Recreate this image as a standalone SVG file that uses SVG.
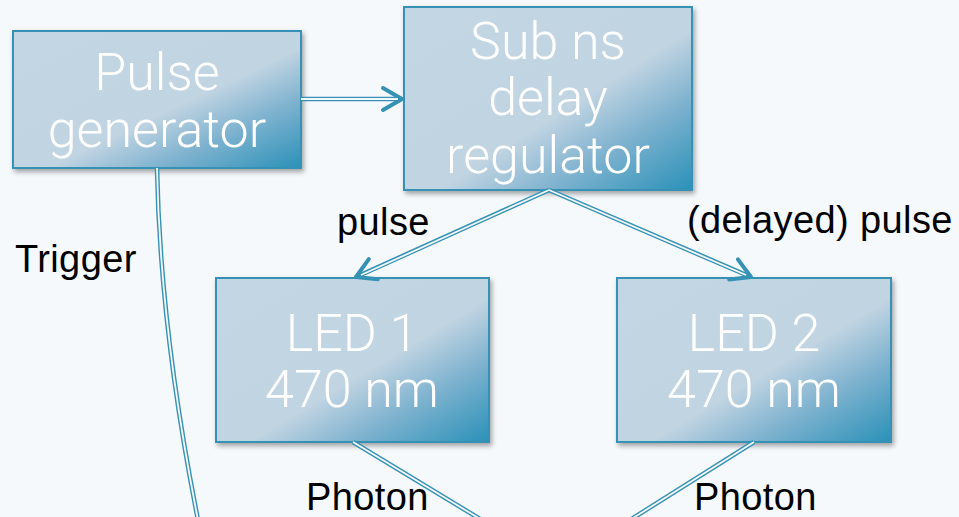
<svg xmlns="http://www.w3.org/2000/svg" width="959" height="517" viewBox="0 0 959 517">
  <defs>
    <linearGradient id="boxGrad" x1="0" y1="0" x2="1" y2="1">
      <stop offset="0" stop-color="#c3d6e3"/>
      <stop offset="0.56" stop-color="#c1d4e2"/>
      <stop offset="0.75" stop-color="#7eb2cf"/>
      <stop offset="1" stop-color="#2a91b8"/>
    </linearGradient>
    <filter id="shadow" x="-10%" y="-10%" width="125%" height="130%">
      <feDropShadow dx="2" dy="3" stdDeviation="2.5" flood-color="#000" flood-opacity="0.35"/>
    </filter>
    <marker id="chev" markerUnits="userSpaceOnUse" markerWidth="40" markerHeight="40" viewBox="-30 -20 40 40" refX="0" refY="0" orient="auto" overflow="visible">
      <path d="M-19,-11 L0,0 L-19,11" fill="none" stroke="#3592b4" stroke-width="4" stroke-linecap="round" stroke-linejoin="round"/>
    </marker>
  </defs>
  <style>
    .box { fill: url(#boxGrad); stroke: #3592b4; stroke-width: 2; filter: url(#shadow); }
    .btxt { font-family: Roboto, "Liberation Sans", sans-serif; font-weight: 300; font-size: 52px; fill: #ffffff; text-anchor: middle; }
    .lbl { font-family: "Liberation Sans", Arial, sans-serif; font-size: 38px; fill: #000000; letter-spacing: 0.4px; }
    .outer { fill: none; stroke: #3592b4; stroke-width: 4.6; }
    .inner { fill: none; stroke: #f6f9fc; stroke-width: 1.8; }
  </style>
  <rect x="0" y="0" width="959" height="517" fill="#f6f9fc"/>

  <g id="pulse-generator">
    <rect class="box" x="13" y="31" width="288" height="137"/>
    <text class="btxt" x="157" y="90">Pulse</text>
    <text class="btxt" x="157" y="147">generator</text>
  </g>

  <g id="delay-regulator">
    <rect class="box" x="404" y="7" width="288" height="183"/>
    <text class="btxt" x="548" y="59">Sub ns</text>
    <text class="btxt" x="548" y="115">delay</text>
    <text class="btxt" x="548" y="173">regulator</text>
  </g>

  <g id="led1">
    <rect class="box" x="216" y="278" width="273" height="164"/>
    <text class="btxt" x="352" y="351">LED 1</text>
    <text class="btxt" x="352" y="407">470 nm</text>
  </g>

  <g id="led2">
    <rect class="box" x="617" y="278" width="274" height="164"/>
    <text class="btxt" x="754" y="351">LED 2</text>
    <text class="btxt" x="754" y="407">470 nm</text>
  </g>

  <g id="connectors">
    <path class="outer" d="M301,99 L402,99" marker-end="url(#chev)"/>
    <path class="inner" d="M301,99 L398,99"/>

    <path class="outer" d="M549,190 L356,277" marker-end="url(#chev)"/>
    <path class="inner" d="M549,190 L361,275"/>

    <path class="outer" d="M549,190 L751,277" marker-end="url(#chev)"/>
    <path class="inner" d="M549,190 L746,275"/>

    <path class="outer" d="M157,168 Q160,330 199,525"/>
    <path class="inner" d="M157,168 Q160,330 199,525"/>

    <path class="outer" d="M353,442 L490,525"/>
    <path class="inner" d="M353,442 L490,525"/>

    <path class="outer" d="M754,442 L622,525"/>
    <path class="inner" d="M754,442 L622,525"/>
  </g>

  <g id="labels">
    <text class="lbl" x="337" y="235">pulse</text>
    <text class="lbl" x="687" y="233">(delayed) pulse</text>
    <text class="lbl" x="15" y="272">Trigger</text>
    <text class="lbl" x="306" y="510">Photon</text>
    <text class="lbl" x="694" y="510">Photon</text>
  </g>
</svg>
